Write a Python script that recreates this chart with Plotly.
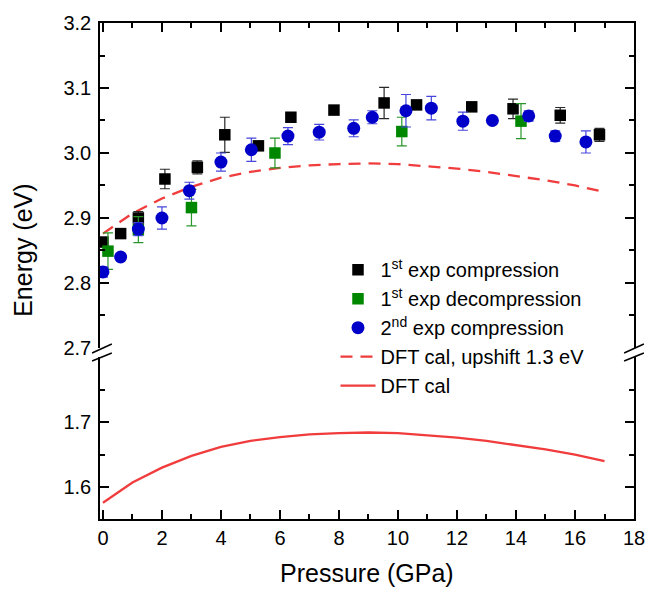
import plotly.graph_objects as go

# 1st experiment, compression (black squares)
p_comp1 = [0.0, 0.6, 1.2, 2.1, 3.2, 4.13, 5.27, 6.37, 7.83, 9.53, 10.63, 12.5, 13.9, 15.5, 16.83]
e_comp1 = [2.863, 2.876, 2.900, 2.960, 2.978, 3.028, 3.011, 3.055, 3.066, 3.077, 3.074, 3.071, 3.068, 3.058, 3.028]
err_comp1 = [0.006, 0.004, 0.010, 0.015, 0.010, 0.027, 0.005, 0.004, 0.004, 0.024, 0.004, 0.004, 0.015, 0.012, 0.010]

# 1st experiment, decompression (green squares)
p_decomp1 = [0.17, 1.2, 3.0, 5.83, 10.13, 14.17]
e_decomp1 = [2.849, 2.882, 2.916, 3.000, 3.033, 3.049]
err_decomp1 = [0.028, 0.020, 0.028, 0.023, 0.022, 0.027]

# 2nd experiment, compression (blue circles)
p_comp2 = [0.0, 0.6, 1.2, 2.0, 2.93, 4.0, 5.03, 6.27, 7.33, 8.5, 9.13, 10.27, 11.13, 12.2, 13.2, 14.43, 15.33, 16.37]
e_comp2 = [2.817, 2.840, 2.883, 2.900, 2.942, 2.986, 3.005, 3.026, 3.032, 3.038, 3.055, 3.065, 3.069, 3.049, 3.050, 3.057, 3.026, 3.017]
err_comp2 = [0.008, 0.005, 0.010, 0.017, 0.013, 0.014, 0.018, 0.013, 0.012, 0.013, 0.010, 0.025, 0.018, 0.014, 0.005, 0.008, 0.008, 0.017]

# DFT calculation
p_dft = list(range(0, 18))
e_dft = [1.576, 1.607, 1.630, 1.648, 1.662, 1.671, 1.677, 1.681, 1.683, 1.684,
         1.683, 1.680, 1.676, 1.671, 1.665, 1.658, 1.650, 1.640]
upshift = 1.3
e_dft_up = [e + upshift for e in e_dft]

font_family = "Arial, Liberation Sans, sans-serif"
red = "rgb(240,60,60)"

fig = go.Figure()

fig.add_trace(go.Scatter(
    x=p_dft, y=e_dft_up, mode="lines", xaxis="x2", yaxis="y",
    name="DFT cal, upshift 1.3 eV", legendrank=4,
    line=dict(color=red, width=2.3, dash="12px,8px"),
))

fig.add_trace(go.Scatter(
    x=p_comp1, y=e_comp1, mode="markers", xaxis="x2", yaxis="y",
    name="1<sup>st</sup> exp compression", legendrank=1,
    marker=dict(symbol="square", size=11.5, color="black"),
    error_y=dict(type="data", array=err_comp1, color="rgb(40,40,40)", thickness=1.2, width=5),
))

fig.add_trace(go.Scatter(
    x=p_decomp1, y=e_decomp1, mode="markers", xaxis="x2", yaxis="y",
    name="1<sup>st</sup> exp decompression", legendrank=2,
    marker=dict(symbol="square", size=11.5, color="rgb(0,135,0)"),
    error_y=dict(type="data", array=err_decomp1, color="rgb(40,150,40)", thickness=1.2, width=5),
))

fig.add_trace(go.Scatter(
    x=p_comp2, y=e_comp2, mode="markers", xaxis="x2", yaxis="y",
    name="2<sup>nd</sup> exp compression", legendrank=3,
    marker=dict(symbol="circle", size=13, color="rgb(0,0,200)"),
    error_y=dict(type="data", array=err_comp2, color="rgb(70,70,220)", thickness=1.2, width=5),
))

fig.add_trace(go.Scatter(
    x=p_dft, y=e_dft, mode="lines", xaxis="x", yaxis="y2",
    name="DFT cal", legendrank=5,
    line=dict(color=red, width=2.3),
))

axis_common = dict(
    showline=True, linecolor="black", linewidth=1.5,
    ticks="inside", tickcolor="black", tickwidth=1.5, ticklen=9,
    showgrid=False, zeroline=False,
    tickfont=dict(family=font_family, size=20, color="black"),
)

fig.update_layout(
    width=657, height=590,
    margin=dict(l=100, r=15, t=23, b=71),
    plot_bgcolor="white", paper_bgcolor="white",
    font=dict(family=font_family, color="black"),
    showlegend=True,
    legend=dict(
        x=0.441, y=0.542, xanchor="left", yanchor="top",
        bgcolor="rgba(0,0,0,0)", font=dict(size=20, family=font_family),
        tracegroupgap=0, itemwidth=35,
    ),
    xaxis=dict(
        axis_common, domain=[0, 1], anchor="y2", range=[-0.1, 18],
        tickvals=[0, 2, 4, 6, 8, 10, 12, 14, 16, 18],
        minor=dict(ticks="inside", ticklen=5, tickwidth=1.5, tickcolor="black", dtick=1, tick0=0),
    ),
    xaxis2=dict(
        axis_common, domain=[0, 1], anchor="y", side="top", matches="x",
        range=[-0.1, 18], showticklabels=False,
        tickvals=[0, 2, 4, 6, 8, 10, 12, 14, 16, 18],
        minor=dict(ticks="inside", ticklen=5, tickwidth=1.5, tickcolor="black", dtick=1, tick0=0),
    ),
    yaxis=dict(
        axis_common, domain=[0.3448, 1], anchor="x2", range=[2.7, 3.2],
        mirror="ticks", ticklabelstandoff=3,
        tickvals=[2.7, 2.8, 2.9, 3.0, 3.1, 3.2],
        ticktext=["2.7", "2.8", "2.9", "3.0", "3.1", "3.2"],
        minor=dict(ticks="inside", ticklen=5, tickwidth=1.5, tickcolor="black",
                   tickvals=[2.75, 2.85, 2.95, 3.05, 3.15]),
    ),
    yaxis2=dict(
        axis_common, domain=[0, 0.3266], anchor="x", range=[1.551, 1.8],
        mirror="ticks", ticklabelstandoff=3,
        tickvals=[1.6, 1.7], ticktext=["1.6", "1.7"],
        minor=dict(ticks="inside", ticklen=5, tickwidth=1.5, tickcolor="black",
                   tickvals=[1.65, 1.75]),
    ),
)

# axis break marks (paper coords)
breaks = [
    (-0.0148, 0.3347, 0.0221, 0.3528),
    (-0.0148, 0.3185, 0.0221, 0.3347),
    (0.9815, 0.3347, 1.0185, 0.3528),
    (0.9815, 0.3185, 1.0185, 0.3347),
]
for x0, y0, x1, y1 in breaks:
    fig.add_shape(type="line", xref="paper", yref="paper",
                  x0=x0, y0=y0, x1=x1, y1=y1,
                  line=dict(color="black", width=1.5))

fig.add_annotation(
    text="Energy (eV)", xref="paper", yref="paper", x=-0.143, y=0.542,
    textangle=-90, showarrow=False, xanchor="center", yanchor="middle",
    font=dict(size=25, family=font_family, color="black"),
)
fig.add_annotation(
    text="Pressure (GPa)", xref="paper", yref="paper", x=0.5, y=-0.108,
    showarrow=False, xanchor="center", yanchor="middle",
    font=dict(size=25, family=font_family, color="black"),
)

fig.write_html(
    "out.html",
    config={"displayModeBar": False},
    post_script="document.body.style.margin='0';",
)
